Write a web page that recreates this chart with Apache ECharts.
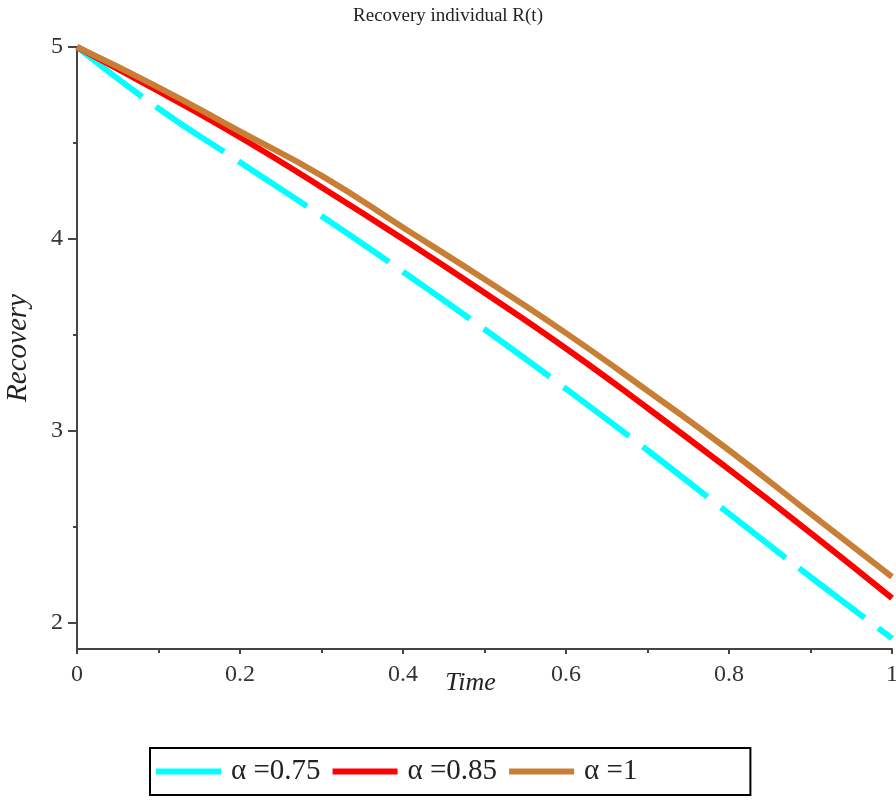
<!DOCTYPE html>
<html>
<head>
<meta charset="utf-8">
<script src="https://cdn.jsdelivr.net/npm/echarts@6/dist/echarts.min.js"></script>
<style>
    html, body { margin: 0; padding: 0; background: #fff; }
    #chart { width: 896px; height: 804px; }
</style>
</head>
<body>
<div id="chart"></div>
<script>
// 数据：时间点与三条恢复曲线
const timePoints = [0, 0.1, 0.2, 0.3, 0.4, 0.5, 0.6, 0.7, 0.8, 0.9, 1.0];
const recovery075 = [5.00, 4.68, 4.40, 4.12, 3.83, 3.53, 3.22, 2.90, 2.57, 2.24, 1.92];
const recovery085 = [5.00, 4.77, 4.53, 4.27, 4.00, 3.72, 3.43, 3.12, 2.80, 2.47, 2.13];
const recovery1 = [5.00, 4.79, 4.56, 4.33, 4.06, 3.79, 3.51, 3.21, 2.90, 2.57, 2.24];
const seriesNames = ["α =0.75", "α =0.85", "α =1"];
const yTickValues = [2, 3, 4, 5];
const yMinorTickValues = [2.5, 3.5, 4.5];

const serif = "'Liberation Serif', 'DejaVu Serif', serif";
const axisColor = "#444";

// 将 x 与 y 配对成点
function toPoints(values) {
    return values.map((v, i) => [timePoints[i], v]);
}

const chart = echarts.init(document.getElementById("chart"));
chart.setOption({
    animation: false,
    title: {
        text: "Recovery individual R(t)",
        left: "center",
        top: 2,
        textStyle: { fontFamily: serif, fontSize: 19, fontWeight: "normal", color: "#222" }
    },
    grid: { left: 77, right: 4, top: 47, bottom: 155, outerBoundsMode: "none" },
    legend: {
        left: 150,
        top: 748,
        icon: "rect",
        itemWidth: 65,
        itemHeight: 6,
        itemGap: 12,
        padding: [9, 113, 9, 6],
        borderColor: "#000",
        borderWidth: 2,
        textStyle: { fontFamily: serif, fontSize: 29, color: "#222", padding: [0, 0, 0, 5] },
        data: seriesNames
    },
    xAxis: {
        type: "value",
        min: 0,
        max: 1,
        interval: 0.2,
        name: "Time",
        nameLocation: "middle",
        nameGap: 21,
        nameMoveOverlap: false,
        nameTextStyle: { fontFamily: serif, fontSize: 26, fontStyle: "italic", color: "#222", padding: [0, 28, 0, 0] },
        axisLine: { lineStyle: { color: axisColor, width: 2 } },
        axisTick: { show: true, length: 5, lineStyle: { color: axisColor, width: 2 } },
        minorTick: { show: true, splitNumber: 2, length: 4, lineStyle: { color: axisColor, width: 2 } },
        axisLabel: {
            fontFamily: serif, fontSize: 24, color: "#333", margin: 14,
            formatter: v => String(+v.toFixed(1))
        },
        splitLine: { show: false }
    },
    yAxis: [
        {
            type: "value",
            min: 1.865,
            max: 5,
            name: "Recovery",
            nameLocation: "middle",
            nameGap: 44,
            nameRotate: 90,
            nameMoveOverlap: false,
            nameTextStyle: { fontFamily: serif, fontSize: 29, fontStyle: "italic", color: "#222" },
            axisLine: { show: true, lineStyle: { color: axisColor, width: 2 } },
            axisTick: { show: true, length: 9, customValues: yTickValues, lineStyle: { color: axisColor, width: 2 } },
            axisLabel: { fontFamily: serif, fontSize: 24, color: "#333", margin: 14, customValues: yTickValues },
            splitLine: { show: false }
        },
        {
            // 仅用于绘制 y 轴的短次刻度
            type: "value",
            position: "left",
            min: 1.865,
            max: 5,
            axisLine: { show: false },
            axisTick: { show: true, length: 4, customValues: yMinorTickValues, lineStyle: { color: axisColor, width: 2 } },
            axisLabel: { show: false },
            splitLine: { show: false }
        }
    ],
    series: [
        {
            name: seriesNames[0],
            type: "line",
            smooth: true,
            symbol: "none",
            data: toPoints(recovery075),
            lineStyle: { color: "#00ffff", width: 6, type: [82, 17] },
            itemStyle: { color: "#00ffff" }
        },
        {
            name: seriesNames[1],
            type: "line",
            smooth: true,
            symbol: "none",
            data: toPoints(recovery085),
            lineStyle: { color: "#ff0000", width: 6 },
            itemStyle: { color: "#ff0000" }
        },
        {
            name: seriesNames[2],
            type: "line",
            smooth: true,
            symbol: "none",
            data: toPoints(recovery1),
            lineStyle: { color: "#c87f35", width: 6 },
            itemStyle: { color: "#c87f35" }
        }
    ]
});
</script>
</body>
</html>
